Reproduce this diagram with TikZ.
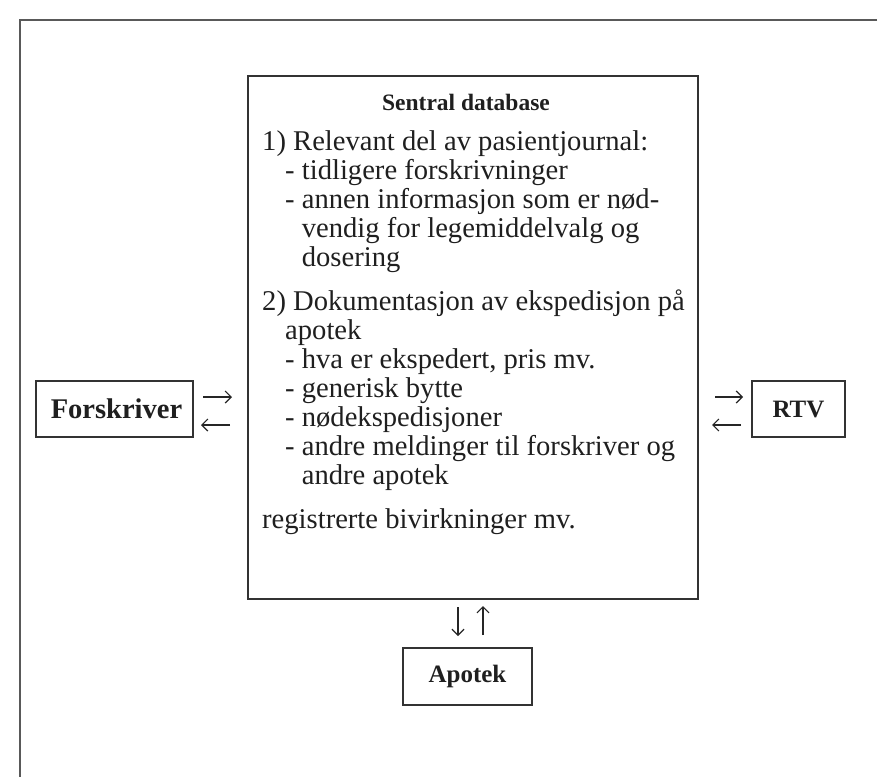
\documentclass[tikz,border=0pt]{standalone}
\usepackage{fontspec}
\setmainfont{Liberation Serif}
\usetikzlibrary{arrows.meta,calc}
\begin{document}
\begin{tikzpicture}[x=1pt,y=-1pt,
  box/.style={draw=black!80, line width=1.5pt, inner sep=0pt},
  lbl/.style={font=\fontsize{25}{25}\selectfont\bfseries, text=black!88},
  body/.style={font=\fontsize{28.6}{28.6}\selectfont, text=black!88, anchor=base west, inner sep=0pt},
  arr/.style={line width=1.2pt, draw=black!85, -{Straight Barb[length=6pt,width=12pt]}}]
\useasboundingbox (0,0) rectangle (894,777);
% outer frame (top and left only)
\draw[line width=1.6pt, draw=black!65] (877,20) -- (20,20) -- (20,777);
% central database box
\node[box, anchor=north west, minimum width=450pt, minimum height=523pt] (db) at (247,75) {};
\node[lbl, font=\fontsize{23.5}{23.5}\selectfont\bfseries, anchor=base, inner sep=0pt] (title) at (466,110) {Sentral database};
\node[body] (l1) at (262,150) {1) Relevant del av pasientjournal:};
\node[body] (l2) at (285,179) {- tidligere forskrivninger};
\node[body] (l3) at (285,208) {- annen informasjon som er nød-};
\node[body] (l4) at (285,237) {\phantom{- }vendig for legemiddelvalg og};
\node[body] (l5) at (285,266) {\phantom{- }dosering};
\node[body] (l6) at (262,310) {2) Dokumentasjon av ekspedisjon på};
\node[body] (l7) at (285,339) {apotek};
\node[body] (l8) at (285,368) {- hva er ekspedert, pris mv.};
\node[body] (l9) at (285,397) {- generisk bytte};
\node[body] (l10) at (285,426) {- nødekspedisjoner};
\node[body] (l11) at (285,455) {- andre meldinger til forskriver og};
\node[body] (l12) at (285,484) {\phantom{- }andre apotek};
\node[body] (l13) at (262,528) {registrerte bivirkninger mv.};
% side boxes
\node[box, minimum width=157pt, minimum height=56pt] (fors) at (114.5,409) {};
\node[lbl, font=\fontsize{28.5}{28.5}\selectfont\bfseries, inner sep=0pt] (forst) at (116.5,409) {Forskriver};
\node[box, lbl, minimum width=93pt, minimum height=56pt] (rtv) at (798.5,409) {RTV};
\node[box, lbl, minimum width=129pt, minimum height=57pt] (apo) at (467.5,676.5) {Apotek};
% arrows
\coordinate (fa1) at (203,397); \coordinate (fa2) at (232,397);
\coordinate (fb1) at (230,425); \coordinate (fb2) at (201,425);
\coordinate (ra1) at (715,397); \coordinate (ra2) at (743,397);
\coordinate (rb1) at (741,425); \coordinate (rb2) at (712,425);
\coordinate (aa1) at (458,607); \coordinate (aa2) at (458,636);
\coordinate (ab1) at (483,635); \coordinate (ab2) at (483,606);
\draw[arr] (fa1) -- (fa2);
\draw[arr] (fb1) -- (fb2);
\draw[arr] (ra1) -- (ra2);
\draw[arr] (rb1) -- (rb2);
\draw[arr] (aa1) -- (aa2);
\draw[arr] (ab1) -- (ab2);
\end{tikzpicture}
\end{document}
